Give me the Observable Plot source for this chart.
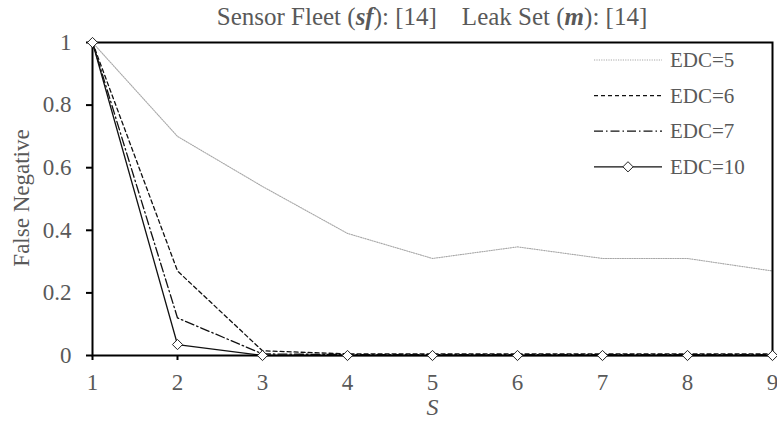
<!DOCTYPE html>
<html><head><meta charset="utf-8">
<script src="https://cdn.jsdelivr.net/npm/d3@7"></script>
<script src="https://cdn.jsdelivr.net/npm/@observablehq/plot@0.6"></script>
<style>
body{margin:0;background:#fff;}
svg{display:block;}
</style></head><body>
<div id="chart"></div>
<script>
const S = [1, 2, 3, 4, 5, 6, 7, 8, 9];
const edc5  = [1, 0.70, 0.54, 0.39, 0.31, 0.347, 0.31, 0.31, 0.27];
const edc6  = [1, 0.27, 0.015, 0.005, 0.005, 0.005, 0.005, 0.005, 0.005];
const edc7  = [1, 0.12, 0.005, 0.003, 0.003, 0.003, 0.003, 0.003, 0.003];
const edc10 = [1, 0.035, 0, 0, 0, 0, 0, 0, 0];
const seriesNames = ["EDC=5", "EDC=6", "EDC=7", "EDC=10"];
const yTicks = [0, 0.2, 0.4, 0.6, 0.8, 1];
const titleParts = ["Sensor Fleet (", "sf", "): [14]\u00a0\u00a0\u00a0\u00a0Leak Set (", "m", "): [14]"];
const yLabel = "False Negative";
const xLabel = "S";

const FONT = "Liberation Serif";
const seriesValues = [edc5, edc6, edc7, edc10];
const rows = seriesNames.flatMap((k, j) => S.map((s, i) => ({s, v: seriesValues[j][i], k})));
const styles = {
  "EDC=5":  {stroke: "#a8a8a8", strokeWidth: 1.1, strokeDasharray: "1.2,1.2"},
  "EDC=6":  {stroke: "#111", strokeWidth: 1.3, strokeDasharray: "4,3"},
  "EDC=7":  {stroke: "#111", strokeWidth: 1.3, strokeDasharray: "9,3,1.5,3"},
  "EDC=10": {stroke: "#111", strokeWidth: 1.3}
};
const gray = "#595959";

const plot = Plot.plot({
  width: 777, height: 422,
  marginTop: 42, marginBottom: 67, marginLeft: 92, marginRight: 5,
  style: {fontFamily: FONT, background: "#fff", color: gray},
  x: {domain: [1, 9]},
  y: {domain: [0, 1]},
  marks: [
    ...seriesNames.map(k => Plot.line(rows.filter(d => d.k === k), {x: "s", y: "v", ...styles[k]})),
    Plot.frame({stroke: "#000", strokeWidth: 2}),
    Plot.axisX({ticks: S, tickSize: 5, tickPadding: 13, stroke: "#000", strokeWidth: 2, fill: gray, fontSize: 23, fontFamily: FONT, label: null, tickFormat: d => String(d)}),
    Plot.axisY({ticks: yTicks, tickSize: 6, tickPadding: 15, stroke: "#000", strokeWidth: 2, fill: gray, fontSize: 23, fontFamily: FONT, label: null, tickFormat: d => String(+d.toFixed(1))}),
    Plot.dot(rows.filter(d => d.k === "EDC=10"), {x: "s", y: "v", symbol: "diamond2", r: 4.6, stroke: "#222", fill: "#fff", strokeWidth: 1}),
    Plot.text([yLabel], {frameAnchor: "left", rotate: -90, dx: -71, dy: -1, fontSize: 23, fontFamily: FONT, fill: gray, lineAnchor: "middle", textAnchor: "middle"}),
    Plot.text([xLabel], {frameAnchor: "bottom", dy: 52, fontSize: 24, fontFamily: FONT, fontStyle: "italic", fill: gray, lineAnchor: "middle"})
  ]
});
document.getElementById("chart").appendChild(plot);

const svg = d3.select(plot);
// title
const t = svg.append("text").attr("x", 432).attr("y", 25).attr("text-anchor", "middle")
  .attr("font-family", FONT).attr("font-size", 25).attr("fill", gray);
titleParts.forEach((p, i) => {
  const ts = t.append("tspan").text(p);
  if (i === 1 || i === 3) ts.attr("font-weight", "bold").attr("font-style", "italic");
});
// legend
const lg = svg.append("g");
seriesNames.forEach((k, i) => {
  const y = 60 + i * 35.6;
  const st = styles[k];
  lg.append("line").attr("x1", 594).attr("x2", 662).attr("y1", y).attr("y2", y)
    .attr("stroke", st.stroke).attr("stroke-width", st.strokeWidth)
    .attr("stroke-dasharray", st.strokeDasharray || null);
  if (k === "EDC=10") {
    lg.append("path").attr("transform", `translate(628,${y})`)
      .attr("d", d3.symbol(d3.symbolDiamond2, Math.PI * 4.6 * 4.6)())
      .attr("fill", "#fff").attr("stroke", "#222").attr("stroke-width", 1);
  }
  lg.append("text").attr("x", 670).attr("y", y).attr("dy", "0.34em").attr("text-anchor", "start")
    .attr("font-family", FONT).attr("font-size", 21).attr("fill", gray).text(k);
});
</script>
</body></html>
